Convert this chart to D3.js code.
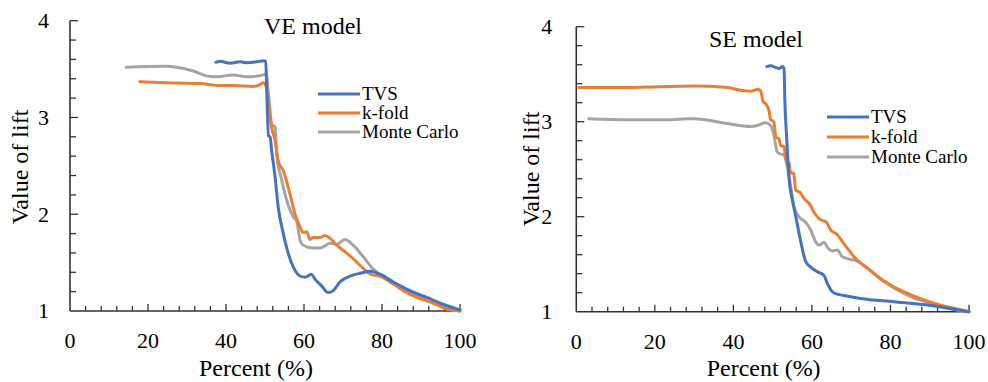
<!DOCTYPE html>
<html lang="en">
    <head>
        <meta charset="utf-8">
        <style>
            body { margin: 0; background: #fff; }
            .series { fill: none; stroke-width: 3; stroke-linejoin: round; stroke-linecap: round; }
        </style>
        <script src="https://d3js.org/d3.v7.min.js"></script>
        <title>Lift curves</title>
    </head>
    <body>
        <div id="chart"></div>
        <script>

            var seriesNames = ["TVS", "k-fold", "Monte Carlo"];
            var seriesColors = ["#4472C4", "#ED7D31", "#A5A5A5"];
            var xTicks = [0, 20, 40, 60, 80, 100];
            var yTicks = [1, 2, 3, 4];

            // VE model, [percent, lift]
            var veTvs = [[37.4,3.57],[38.5,3.58],[41,3.56],[43.6,3.575],[45.3,3.565],[47.9,3.575],[49.6,3.585],[50.2,3.58],
                [50.4,3.34],[50.9,2.81],[51.3,2.8],[51.7,2.66],[52.6,2.38],[53.4,2.07],[54.7,1.8],[56,1.59],[57.3,1.45],
                [59,1.36],[60.3,1.35],[61.9,1.38],[62.8,1.33],[64.5,1.26],[66.2,1.19],[67.5,1.21],[69.2,1.3],[71.8,1.36],
                [74.4,1.39],[77,1.41],[79.5,1.38],[82.9,1.3],[87.2,1.21],[91.5,1.14],[95.7,1.07],[100,1.01]];
            var veKfold = [[17.9,3.37],[24.8,3.36],[33.3,3.35],[38.5,3.33],[41.9,3.33],[47,3.32],[48.7,3.34],[49.6,3.36],
                [50.2,3.33],[50.9,3.17],[51.7,2.9],[52.6,2.76],[53.4,2.55],[54.7,2.45],[56.4,2.21],[57.7,2.0],[59,1.87],
                [59.8,1.81],[60.7,1.82],[61.5,1.74],[62.4,1.76],[64.1,1.76],[65.4,1.78],[66.7,1.75],[68.4,1.68],[70.9,1.6],
                [72.6,1.54],[75.2,1.44],[77,1.38],[79.5,1.36],[82.1,1.3],[85.5,1.21],[88.9,1.14],[93.2,1.08],[96.6,1.02],[100,1.0]];
            var veMonte = [[14.4,3.52],[24.8,3.53],[27.4,3.52],[31.6,3.48],[35,3.43],[37.6,3.42],[41.9,3.44],[45.3,3.42],
                [49.6,3.44],[50.3,3.45],[50.9,3.24],[51.7,2.93],[52.6,2.9],[53,2.62],[54.3,2.35],[55.6,2.14],[57.3,1.97],
                [58.1,1.93],[59,1.73],[59.8,1.68],[62.4,1.65],[64.1,1.65],[66.7,1.7],[68.4,1.69],[70.5,1.74],[72.6,1.68],
                [75.2,1.56],[77.8,1.43],[80.3,1.35],[84.6,1.25],[88.9,1.16],[93.2,1.09],[96.6,1.03],[100,1.0]];

            // SE model, [percent, lift]
            var seTvs = [[48.5,3.58],[49.5,3.59],[50.8,3.57],[51.6,3.56],[52.5,3.58],[52.9,3.56],[53.1,3.23],[53.6,2.81],
                [54.2,2.39],[55,2.18],[55.9,2.0],[57.1,1.75],[58.4,1.53],[59.7,1.47],[61.4,1.42],[63.1,1.38],[63.9,1.3],
                [64.8,1.23],[66,1.19],[68.2,1.17],[72.4,1.14],[80.9,1.105],[89.4,1.07],[96.2,1.025],[100,1.0]];
            var seKfold = [[0.7,3.36],[13,3.36],[30,3.375],[38.5,3.36],[41.9,3.33],[44.4,3.32],[46.1,3.34],[46.9,3.33],
                [47.6,3.21],[48.2,3.19],[49.1,3.11],[49.5,3.02],[50.3,3.0],[50.8,2.84],[51.6,2.82],[52,2.75],[52.9,2.74],
                [53.3,2.61],[54.2,2.56],[54.6,2.46],[55.3,2.46],[55.9,2.28],[57.1,2.25],[58,2.19],[59.3,2.14],[60.5,2.05],
                [61.8,1.98],[62.6,1.96],[63.5,1.95],[64.8,1.86],[66.5,1.81],[67.7,1.74],[69,1.67],[71.1,1.56],[74.1,1.46],
                [77.5,1.35],[80.9,1.26],[85.1,1.18],[89.4,1.11],[93.6,1.06],[97.9,1.02],[100,1.0]];
            var seMonte = [[3.2,3.03],[13,3.02],[24,3.02],[28.3,3.03],[30,3.03],[38.5,2.98],[44.4,2.95],[46.1,2.96],
                [48.2,2.99],[49.5,2.96],[50.3,2.86],[51.2,2.68],[52,2.66],[52.9,2.65],[53.7,2.53],[54.6,2.32],[55.4,2.11],
                [56.7,2.0],[58.4,1.94],[59.7,1.86],[60.9,1.74],[61.8,1.7],[63.1,1.73],[63.9,1.68],[65.2,1.64],[66.5,1.65],
                [67.7,1.58],[69.9,1.55],[71.1,1.54],[74.1,1.46],[77.5,1.34],[80.9,1.25],[85.1,1.16],[89.4,1.1],[93.6,1.05],
                [97.9,1.01],[100,1.0]];

            var panels = [
                {title: "VE model", series: [veTvs, veKfold, veMonte],
                 x0: 70, x1: 460, y0: 311, y1: 20.7, titleX: 313, titleY: 34, yLabOff: 21, xLabY: 348,
                 yTitleX: 28, yTitleY: 167, xTitleY: 376, legX: 318, legY: 93, legGap: 19},
                {title: "SE model", series: [seTvs, seKfold, seMonte],
                 x0: 576.3, x1: 969, y0: 311.7, y1: 26.7, titleX: 756, titleY: 46.5, yLabOff: 24, xLabY: 349,
                 yTitleX: 539, yTitleY: 169, xTitleY: 376, legX: 827, legY: 116, legGap: 20}
            ];

            var serif = "'Liberation Serif', 'Times New Roman', Times, 'DejaVu Serif', serif";

            var svg = d3.select("#chart")
                .append("svg")
                    .attr("width", 988)
                    .attr("height", 382)
                    .attr("font-family", serif)
                    .style("font-family", serif);

            panels.forEach(function(p) {
                var x = d3.scaleLinear().domain([0, 100]).range([p.x0, p.x1]);
                var y = d3.scaleLinear().domain([1, 4]).range([p.y0, p.y1]);
                var g = svg.append("g");

                // minor ticks pointing inwards
                g.selectAll(".xt")
                    .data(d3.range(4, 101, 4))
                    .enter().append("line")
                        .attr("x1", d => x(d)).attr("x2", d => x(d))
                        .attr("y1", y(1)).attr("y2", d => y(1) - (d % 20 === 0 ? 7 : 5))
                        .attr("stroke", "#333").attr("stroke-width", 1.3);
                g.selectAll(".yt")
                    .data(d3.range(12, 41, 2).map(d => d / 10))
                    .enter().append("line")
                        .attr("x1", x(0)).attr("x2", d => x(0) + (Math.abs(d - Math.round(d)) < 0.01 ? 8 : 6))
                        .attr("y1", d => y(d)).attr("y2", d => y(d))
                        .attr("stroke", "#333").attr("stroke-width", 1.3);

                g.append("line")
                    .attr("x1", x(0)).attr("x2", x(100)).attr("y1", y(1)).attr("y2", y(1))
                    .attr("stroke", "#333").attr("stroke-width", 1.6);
                g.append("line")
                    .attr("x1", x(0)).attr("x2", x(0)).attr("y1", y(1)).attr("y2", y(4))
                    .attr("stroke", "#333").attr("stroke-width", 1.6);

                g.selectAll(".xl")
                    .data(xTicks)
                    .enter().append("text")
                        .attr("x", d => x(d)).attr("y", p.xLabY)
                        .attr("text-anchor", "middle").attr("font-size", 22)
                        .style("font-family", serif)
                        .text(d => d);
                g.selectAll(".yl")
                    .data(yTicks)
                    .enter().append("text")
                        .attr("x", x(0) - p.yLabOff).attr("y", d => y(d) + 7.3)
                        .attr("text-anchor", "end").attr("font-size", 22)
                        .style("font-family", serif)
                        .text(d => d);

                var line = d3.line()
                    .x(d => x(d[0]))
                    .y(d => y(d[1]))
                    .curve(d3.curveMonotoneX);

                // blue drawn last so it sits on top
                [2, 1, 0].forEach(function(i) {
                    g.append("path")
                        .attr("class", "series")
                        .attr("d", line(p.series[i]))
                        .attr("stroke", seriesColors[i]);
                });

                g.append("text")
                    .attr("x", p.titleX).attr("y", p.titleY)
                    .attr("text-anchor", "middle").attr("font-size", 24)
                    .style("font-family", serif)
                    .text(p.title);
                g.append("text")
                    .attr("x", (p.x0 + p.x1) / 2 - 9).attr("y", p.xTitleY)
                    .attr("text-anchor", "middle").attr("font-size", 24)
                    .style("font-family", serif)
                    .text("Percent (%)");
                g.append("text")
                    .attr("transform", "translate(" + p.yTitleX + "," + p.yTitleY + ") rotate(-90)")
                    .attr("text-anchor", "middle").attr("font-size", 24)
                    .style("font-family", serif)
                    .text("Value of lift");

                seriesNames.forEach(function(name, i) {
                    var ly = p.legY + i * p.legGap;
                    g.append("line")
                        .attr("x1", p.legX).attr("x2", p.legX + 42)
                        .attr("y1", ly + 1).attr("y2", ly + 1)
                        .attr("stroke", seriesColors[i]).attr("stroke-width", 3);
                    g.append("text")
                        .attr("x", p.legX + 44).attr("y", ly + 6.5)
                        .attr("font-size", 19)
                        .style("font-family", serif)
                        .text(name);
                });
            });
        </script>
    </body>
</html>
